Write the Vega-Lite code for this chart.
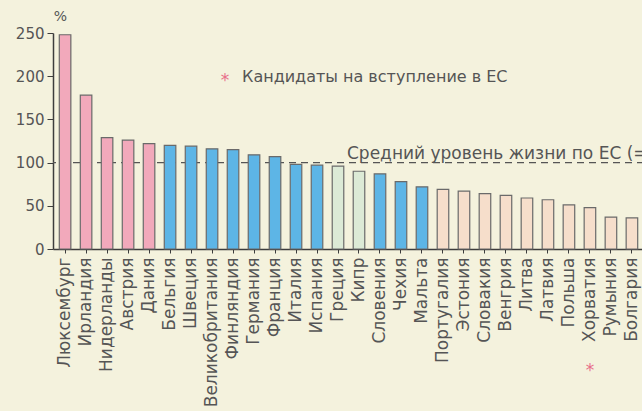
{
  "$schema": "https://vega.github.io/schema/vega-lite/v6.json",
  "autosize": "none",
  "width": 591,
  "height": 216,
  "padding": {"left": 53, "top": 33, "right": 0, "bottom": 162},
  "background": "#F4F2DD",
  "config": {
    "view": {"stroke": null},
    "font": "DejaVu Sans",
    "axis": {"labelFont": "DejaVu Sans", "titleFont": "DejaVu Sans", "labelColor": "#555555", "titleColor": "#555555", "domainColor": "#3d3d3d", "tickColor": "#3d3d3d", "grid": false}
  },
  "layer": [
    {
      "data": {"values": [{}]},
      "mark": {"type": "rule", "color": "#555555", "strokeDash": [7, 5], "strokeWidth": 1.4},
      "encoding": {"y": {"datum": 100, "type": "quantitative"}}
    },
    {
      "data": {
        "values": [
          {"country": "Люксембург", "value": 248, "group": "a"},
          {"country": "Ирландия", "value": 178, "group": "a"},
          {"country": "Нидерланды", "value": 129, "group": "a"},
          {"country": "Австрия", "value": 126, "group": "a"},
          {"country": "Дания", "value": 122, "group": "a"},
          {"country": "Бельгия", "value": 120, "group": "b"},
          {"country": "Швеция", "value": 119, "group": "b"},
          {"country": "Великобритания", "value": 116, "group": "b"},
          {"country": "Финляндия", "value": 115, "group": "b"},
          {"country": "Германия", "value": 109, "group": "b"},
          {"country": "Франция", "value": 107, "group": "b"},
          {"country": "Италия", "value": 98, "group": "b"},
          {"country": "Испания", "value": 97, "group": "b"},
          {"country": "Греция", "value": 96, "group": "c"},
          {"country": "Кипр", "value": 90, "group": "c"},
          {"country": "Словения", "value": 87, "group": "b"},
          {"country": "Чехия", "value": 78, "group": "b"},
          {"country": "Мальта", "value": 72, "group": "b"},
          {"country": "Португалия", "value": 69, "group": "d"},
          {"country": "Эстония", "value": 67, "group": "d"},
          {"country": "Словакия", "value": 64, "group": "d"},
          {"country": "Венгрия", "value": 62, "group": "d"},
          {"country": "Литва", "value": 59, "group": "d"},
          {"country": "Латвия", "value": 57, "group": "d"},
          {"country": "Польша", "value": 51, "group": "d"},
          {"country": "Хорватия", "value": 48, "group": "d"},
          {"country": "Румыния", "value": 37, "group": "d"},
          {"country": "Болгария", "value": 36, "group": "d"}
        ]
      },
      "mark": {"type": "bar", "stroke": "#6a6a6a", "strokeWidth": 1.2},
      "encoding": {
        "x": {
          "field": "country", "type": "nominal", "sort": null,
          "scale": {"paddingInner": 0.45, "paddingOuter": 0.3},
          "axis": {"title": null, "labelAngle": -90, "labelFontSize": 17, "labelPadding": 4, "tickSize": 4, "domainWidth": 1.5, "labelLimit": 200}
        },
        "y": {
          "field": "value", "type": "quantitative",
          "scale": {"domain": [0, 250], "nice": false},
          "axis": {"title": "%", "titleAngle": 0, "titleX": 7, "titleY": -10, "titleAlign": "center", "titleFontSize": 14, "titleFontWeight": "normal", "values": [0, 50, 100, 150, 200, 250], "labelFontSize": 15, "tickSize": 6, "labelPadding": 3, "domainWidth": 1.5}
        },
        "color": {
          "field": "group", "type": "nominal", "legend": null,
          "scale": {"domain": ["a", "b", "c", "d"], "range": ["#F2A9BB", "#5DB5E6", "#DCEAD6", "#F6DECB"]}
        }
      }
    },
    {
      "data": {"values": [{}]},
      "mark": {"type": "text", "text": "*", "color": "#E8708A", "fontSize": 17, "align": "center", "baseline": "middle", "dx": 13},
      "encoding": {"x": {"datum": "Великобритания"}, "y": {"datum": 194, "type": "quantitative"}}
    },
    {
      "data": {"values": [{}]},
      "mark": {"type": "text", "text": "Кандидаты на вступление в ЕС", "color": "#555555", "fontSize": 16, "align": "left", "baseline": "alphabetic", "dx": 9},
      "encoding": {"x": {"datum": "Финляндия"}, "y": {"datum": 193, "type": "quantitative"}}
    },
    {
      "data": {"values": [{}]},
      "mark": {"type": "text", "text": "Средний уровень жизни по ЕС (=100)", "color": "#555555", "fontSize": 17, "align": "left", "baseline": "alphabetic", "dx": 9, "dy": -4},
      "encoding": {"x": {"datum": "Греция"}, "y": {"datum": 100, "type": "quantitative"}}
    },
    {
      "data": {"values": [{}]},
      "mark": {"type": "text", "text": "*", "color": "#E8708A", "fontSize": 17, "align": "center", "baseline": "middle"},
      "encoding": {"x": {"datum": "Хорватия"}, "y": {"datum": -141, "type": "quantitative"}}
    }
  ]
}
